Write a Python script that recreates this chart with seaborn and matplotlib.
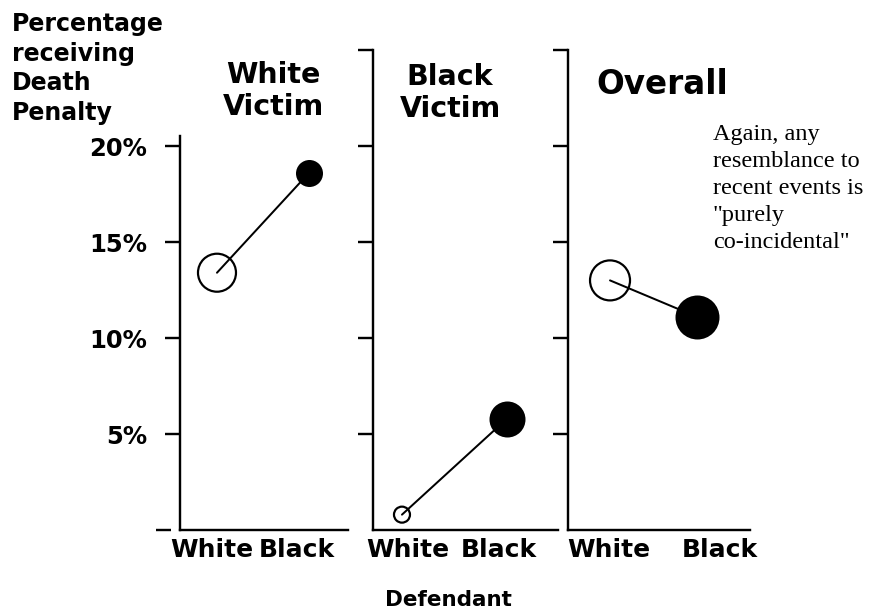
import numpy as np
import pandas as pd
import matplotlib
matplotlib.use("Agg")
import matplotlib.pyplot as plt
import matplotlib.transforms as mtransforms
import seaborn as sns

# ---------------- data ----------------
panels = ["White\nVictim", "Black\nVictim", "Overall"]
defendants = ["White", "Black"]
pct_white_def = [13.4, 0.8, 13.0]
pct_black_def = [18.6, 5.8, 11.1]
ytick_vals = [5, 10, 15, 20]
ytick_labels = ["5%", "10%", "15%", "20%"]
ylabel_text = "Percentage\nreceiving\nDeath\nPenalty"
xlabel_text = "Defendant"
note_text = 'Again, any\nresemblance to\nrecent events is\n"purely\nco-incidental"'

# ---------------- styles / layout ----------------
marker_diam_px = [(38, 27), (16, 36), (40, 44)]
W, H = 886, 612
DPI = 100
PT = 72 / DPI
axes_px = [(180, 168), (373, 185), (568, 182)]
x_view = [(-0.402, 1.424), (-0.276, 1.486), (-0.483, 1.609)]
xlabel_pos = [(-0.054, 0.87), (0.057, 0.924), (-0.011, 1.264)]
title_px = [(273, 61, 20.5), (450, 63, 20.5), (662, 68, 23.5)]

sns.set_style("white")
plt.rcParams["font.family"] = ["DejaVu Sans"]
plt.rcParams["font.weight"] = "bold"
plt.rcParams["text.color"] = "black"
plt.rcParams["xtick.color"] = "black"
plt.rcParams["ytick.color"] = "black"
plt.rcParams["xtick.labelcolor"] = "black"
plt.rcParams["ytick.labelcolor"] = "black"

fig = plt.figure(figsize=(W / DPI, H / DPI), dpi=DPI)


def fx(x):
    return x / W


def fy(y):
    return 1 - y / H


for i in range(3):
    x0, w = axes_px[i]
    ax = fig.add_axes([fx(x0), fy(530), w / W, 480 / H])
    df = pd.DataFrame({"defendant": [0, 1],
                       "pct": [pct_white_def[i], pct_black_def[i]]})
    sns.lineplot(data=df, x="defendant", y="pct", ax=ax, color="black",
                 linewidth=2 * PT, zorder=3)
    d_open, d_fill = marker_diam_px[i]
    sns.scatterplot(data=df.iloc[[0]], x="defendant", y="pct", ax=ax,
                    s=(d_open * PT) ** 2, facecolor="none", edgecolor="black",
                    linewidth=2.2 * PT, zorder=2)
    sns.scatterplot(data=df.iloc[[1]], x="defendant", y="pct", ax=ax,
                    s=(d_fill * PT) ** 2, color="black", edgecolor="black",
                    linewidth=0, zorder=4)
    ax.set_xlim(*x_view[i])
    ax.set_ylim(0, 25)
    ax.set_facecolor("none")
    for s in ["top", "right"]:
        ax.spines[s].set_visible(False)
    for s in ["left", "bottom"]:
        ax.spines[s].set_linewidth(2.4 * PT)
        ax.spines[s].set_color("black")
    ax.set_xlabel("")
    ax.set_ylabel("")
    ax.set_xticks(list(xlabel_pos[i]))
    ax.set_xticklabels(defendants, fontsize=18, fontweight="bold")
    ax.tick_params(axis="x", bottom=True, length=0, pad=6)
    if i == 0:
        ax.spines["left"].set_bounds(0, 20.5)
        ax.set_yticks(ytick_vals)
        ax.set_yticklabels(ytick_labels, fontsize=17.5, fontweight="bold")
        ax.tick_params(axis="y", left=True, direction="out", length=15 * PT,
                       width=2.4 * PT, pad=13, color="black")
        trans = mtransforms.blended_transform_factory(ax.transAxes, ax.transData)
        ax.plot([-0.143, -0.054], [0, 0], transform=trans, color="black",
                linewidth=2.4 * PT, clip_on=False, solid_capstyle="butt")
    else:
        ax.set_yticks(ytick_vals + [25])
        ax.set_yticklabels([])
        ax.tick_params(axis="y", left=True, direction="out", length=15 * PT,
                       width=2.4 * PT, color="black")
    tx, ty, tsize = title_px[i]
    fig.text(fx(tx), fy(ty), panels[i], ha="center", va="top",
             fontsize=tsize, fontweight="bold", linespacing=1.2)

fig.text(fx(12), fy(12), ylabel_text, ha="left", va="top", fontsize=17,
         fontweight="bold", linespacing=1.3)
fig.text(fx(448), fy(600), xlabel_text, ha="center", va="center",
         fontsize=15.5, fontweight="bold")
fig.text(fx(713), fy(124), note_text, ha="left", va="top", fontsize=17.5,
         fontweight="normal", family=["Liberation Serif"], linespacing=1.38)

fig.savefig("out.png", dpi=DPI)
